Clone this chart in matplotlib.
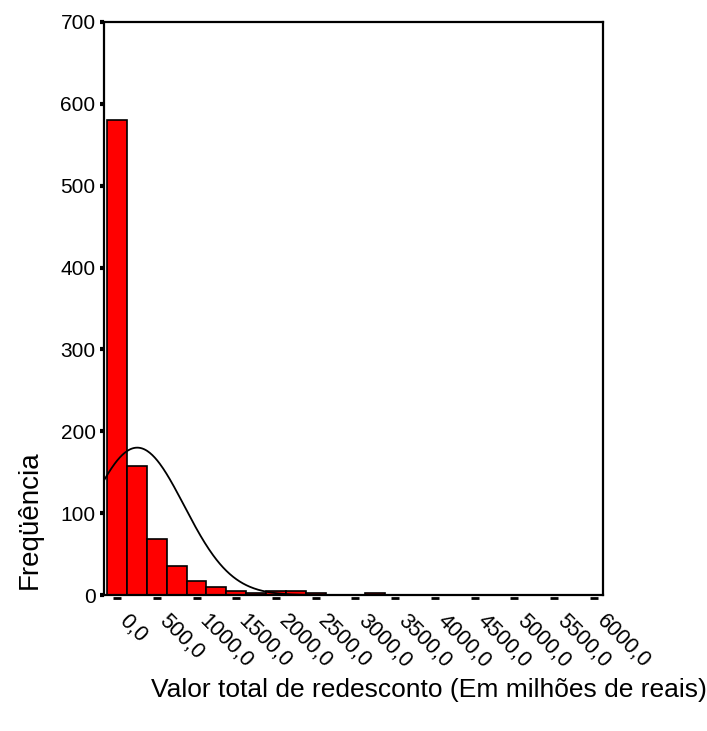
import numpy as np
from matplotlib import pyplot as plt
from matplotlib.transforms import ScaledTranslation

# histogram: bin centres (millions) and counts
bin_centers = [0, 250, 500, 750, 1000, 1250, 1500, 1750, 2000, 2250, 2500, 2750, 3000, 3250]
counts = [580, 158, 69, 35, 17, 10, 5, 2, 5, 5, 2, 0, 0, 2]
bin_width = 250

# fitted normal curve
curve_mean = 254
curve_sd = 590
curve_n = 1065

xticks = [0, 500, 1000, 1500, 2000, 2500, 3000, 3500, 4000, 4500, 5000, 5500, 6000]
xtick_labels = ["0,0", "500,0", "1000,0", "1500,0", "2000,0", "2500,0", "3000,0",
                "3500,0", "4000,0", "4500,0", "5000,0", "5500,0", "6000,0"]
yticks = [0, 100, 200, 300, 400, 500, 600, 700]

plt.rcParams['font.family'] = ['Liberation Sans', 'DejaVu Sans']

fig = plt.figure(figsize=(7.07, 7.31), dpi=100)
ax = fig.add_axes([0.147, 0.186, 0.706, 0.784])

ax.bar(bin_centers, counts, width=bin_width, color="#ff0000",
       edgecolor="black", linewidth=1.2)

xs = np.linspace(-165, 6115, 600)
ys = curve_n * bin_width / (curve_sd * np.sqrt(2 * np.pi)) * \
    np.exp(-0.5 * ((xs - curve_mean) / curve_sd) ** 2)
ax.plot(xs, ys, color="black", linewidth=1.3)

ax.set_xlim(-165, 6115)
ax.set_ylim(0, 700)

for s in ax.spines.values():
    s.set_linewidth(1.6)

ax.set_yticks(yticks)
ax.tick_params(axis="y", direction="out", length=3, width=3, labelsize=15, pad=3)

ax.set_xticks(xticks)
ax.set_xticklabels(xtick_labels, rotation=-45, ha="left", va="top",
                   rotation_mode="anchor")
ax.tick_params(axis="x", length=0, labelsize=15.5, pad=11)
shift = ScaledTranslation(13 / 100, 0, fig.dpi_scale_trans)
for lbl in ax.get_xticklabels():
    lbl.set_transform(lbl.get_transform() + shift)

# SPSS-style little horizontal dashes under the x axis
ax.plot(xticks, [-0.005] * len(xticks), transform=ax.get_xaxis_transform(),
        linestyle="none", marker="_", markersize=6, markeredgewidth=2,
        color="black", clip_on=False)

fig.text(0.607, 0.056, "Valor total de redesconto (Em milhões de reais)",
         ha="center", va="center", fontsize=19)
fig.text(0.042, 0.289, "Freqüência", rotation=90, ha="center", va="center",
         fontsize=20)

fig.savefig("out.png", dpi=100)
